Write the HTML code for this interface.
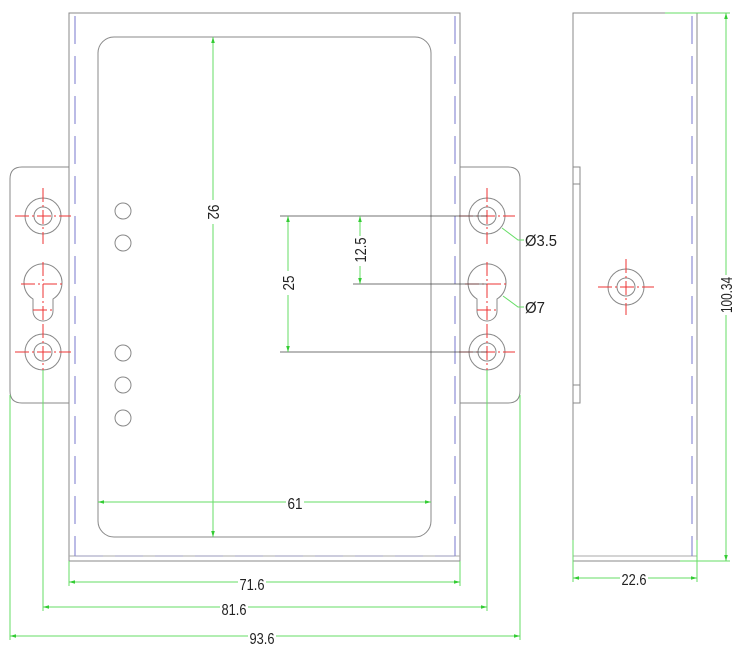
<!DOCTYPE html>
<html><head><meta charset="utf-8"><style>
html,body{margin:0;padding:0;background:#fff;}
svg{display:block;}
text{font-family:"Liberation Sans",sans-serif;font-size:16px;fill:#222;}
</style></head><body>
<svg width="750" height="654" viewBox="0 0 750 654" xmlns="http://www.w3.org/2000/svg">
<defs>
<marker id="a" viewBox="0 0 10 10" refX="10" refY="5" markerWidth="6" markerHeight="6" orient="auto-start-reverse"><path d="M0,2 L10,5 L0,8 z" fill="#3c3"/></marker>
</defs>
<g fill="none" stroke="#888" stroke-width="1">
<rect x="69" y="13" width="391" height="548"/>
<line x1="69" y1="556" x2="460" y2="556" stroke="#aaa"/>
<rect x="98" y="37" width="333" height="500" rx="16"/>
<path d="M69,167 H22 Q10,167 10,179 V391 Q10,403 22,403 H69"/>
<path d="M460,167 H508 Q520,167 520,179 V391 Q520,403 508,403 H460"/>
<circle cx="43" cy="216" r="18"/><circle cx="43" cy="216" r="9"/>
<circle cx="43" cy="352" r="18"/><circle cx="43" cy="352" r="9"/>
<circle cx="487" cy="216" r="18"/><circle cx="487" cy="216" r="9"/>
<circle cx="487" cy="352" r="18"/><circle cx="487" cy="352" r="9"/>
<path d="M33,299 A19,19 0 1 1 53,299 V311 A10,10 0 0 1 33,311 Z"/>
<path d="M477,299 A19,19 0 1 1 497,299 V311 A10,10 0 0 1 477,311 Z"/>
<circle cx="123" cy="211" r="8"/><circle cx="123" cy="243" r="8"/>
<circle cx="123" cy="353" r="8"/><circle cx="123" cy="385" r="8"/><circle cx="123" cy="418" r="8"/>
<rect x="573" y="13" width="124" height="548"/>
<line x1="573" y1="556" x2="697" y2="556" stroke="#aaa"/>
<rect x="573" y="167" width="7" height="236"/>
<line x1="573" y1="184" x2="580" y2="184"/><line x1="573" y1="385" x2="580" y2="385"/>
<circle cx="626" cy="287" r="18"/><circle cx="626" cy="287" r="9"/>
</g>
<g fill="none" stroke="#77c" stroke-width="1" stroke-dasharray="28,12">
<line x1="75" y1="16" x2="75" y2="556"/>
<line x1="455" y1="16" x2="455" y2="556"/>
<line x1="75" y1="556" x2="455" y2="556" stroke="#99b"/>
<line x1="692" y1="16" x2="692" y2="556"/>
</g>
<g stroke="#e33" stroke-width="1" stroke-dasharray="14,3,2,3">
<line x1="15" y1="216" x2="71" y2="216"/><line x1="43" y1="188" x2="43" y2="244"/>
<line x1="15" y1="352" x2="71" y2="352"/><line x1="43" y1="324" x2="43" y2="380"/>
<line x1="21" y1="284" x2="65" y2="284"/><line x1="43" y1="262" x2="43" y2="320"/>
<line x1="33" y1="310" x2="53" y2="310"/>
<line x1="459" y1="216" x2="515" y2="216"/><line x1="487" y1="188" x2="487" y2="244"/>
<line x1="459" y1="352" x2="515" y2="352"/><line x1="487" y1="324" x2="487" y2="380"/>
<line x1="465" y1="284" x2="509" y2="284"/><line x1="487" y1="262" x2="487" y2="320"/>
<line x1="477" y1="310" x2="497" y2="310"/>
<line x1="598" y1="287" x2="654" y2="287"/><line x1="626" y1="259" x2="626" y2="315"/>
</g>
<g stroke="#444" stroke-width="0.8">
<line x1="280" y1="216" x2="487" y2="216"/>
<line x1="280" y1="352" x2="487" y2="352"/>
<line x1="353" y1="284" x2="487" y2="284"/>
</g>
<g stroke="#6d6" stroke-width="1" fill="none">
<line x1="213" y1="37" x2="213" y2="537" marker-start="url(#a)" marker-end="url(#a)"/>
<line x1="288" y1="216" x2="288" y2="352" marker-start="url(#a)" marker-end="url(#a)"/>
<line x1="360" y1="216" x2="360" y2="284" marker-start="url(#a)" marker-end="url(#a)"/>
<line x1="98" y1="502" x2="431" y2="502" marker-start="url(#a)" marker-end="url(#a)"/>
<line x1="69" y1="561" x2="69" y2="586"/><line x1="460" y1="561" x2="460" y2="586"/>
<line x1="69" y1="582" x2="460" y2="582" marker-start="url(#a)" marker-end="url(#a)"/>
<line x1="43" y1="370" x2="43" y2="611"/><line x1="487" y1="370" x2="487" y2="611"/>
<line x1="43" y1="607" x2="487" y2="607" marker-start="url(#a)" marker-end="url(#a)"/>
<line x1="10" y1="395" x2="10" y2="640"/><line x1="520" y1="395" x2="520" y2="640"/>
<line x1="10" y1="636" x2="520" y2="636" marker-start="url(#a)" marker-end="url(#a)"/>
<line x1="573" y1="540" x2="573" y2="582"/><line x1="697" y1="540" x2="697" y2="582"/>
<line x1="573" y1="578" x2="697" y2="578" marker-start="url(#a)" marker-end="url(#a)"/>
<line x1="665" y1="13" x2="730" y2="13"/><line x1="680" y1="561" x2="730" y2="561"/>
<line x1="726" y1="13" x2="726" y2="561" marker-start="url(#a)" marker-end="url(#a)"/>
<polyline points="502,228 518,240 524,240"/>
<polyline points="503,296 518,307 524,307"/>
</g>
<g>
<rect x="206" y="200" width="14" height="24" fill="#fff"/>
<text transform="translate(208,212) rotate(90)" text-anchor="middle" textLength="15" lengthAdjust="spacingAndGlyphs">92</text>
<rect x="281" y="271" width="14" height="24" fill="#fff"/>
<text transform="translate(294,283) rotate(-90)" text-anchor="middle" textLength="15" lengthAdjust="spacingAndGlyphs">25</text>
<rect x="353" y="236" width="14" height="30" fill="#fff"/>
<text transform="translate(366,250) rotate(-90)" text-anchor="middle" textLength="25" lengthAdjust="spacingAndGlyphs">12.5</text>
<rect x="719" y="275" width="14" height="40" fill="#fff"/>
<text transform="translate(732,295) rotate(-90)" text-anchor="middle" textLength="36" lengthAdjust="spacingAndGlyphs">100.34</text>
<rect x="286" y="494" width="18" height="14" fill="#fff"/>
<text x="295" y="509" text-anchor="middle" textLength="15" lengthAdjust="spacingAndGlyphs">61</text>
<rect x="238" y="574" width="28" height="14" fill="#fff"/>
<text x="252" y="590" text-anchor="middle" textLength="25" lengthAdjust="spacingAndGlyphs">71.6</text>
<rect x="220" y="599" width="28" height="14" fill="#fff"/>
<text x="234" y="615" text-anchor="middle" textLength="25" lengthAdjust="spacingAndGlyphs">81.6</text>
<rect x="248" y="628" width="28" height="14" fill="#fff"/>
<text x="262" y="644" text-anchor="middle" textLength="25" lengthAdjust="spacingAndGlyphs">93.6</text>
<rect x="620" y="570" width="28" height="14" fill="#fff"/>
<text x="634" y="585" text-anchor="middle" textLength="25" lengthAdjust="spacingAndGlyphs">22.6</text>
<text x="525" y="246" textLength="32" lengthAdjust="spacingAndGlyphs">Ø3.5</text>
<text x="525" y="313" textLength="20" lengthAdjust="spacingAndGlyphs">Ø7</text>
</g>
</svg>
</body></html>
